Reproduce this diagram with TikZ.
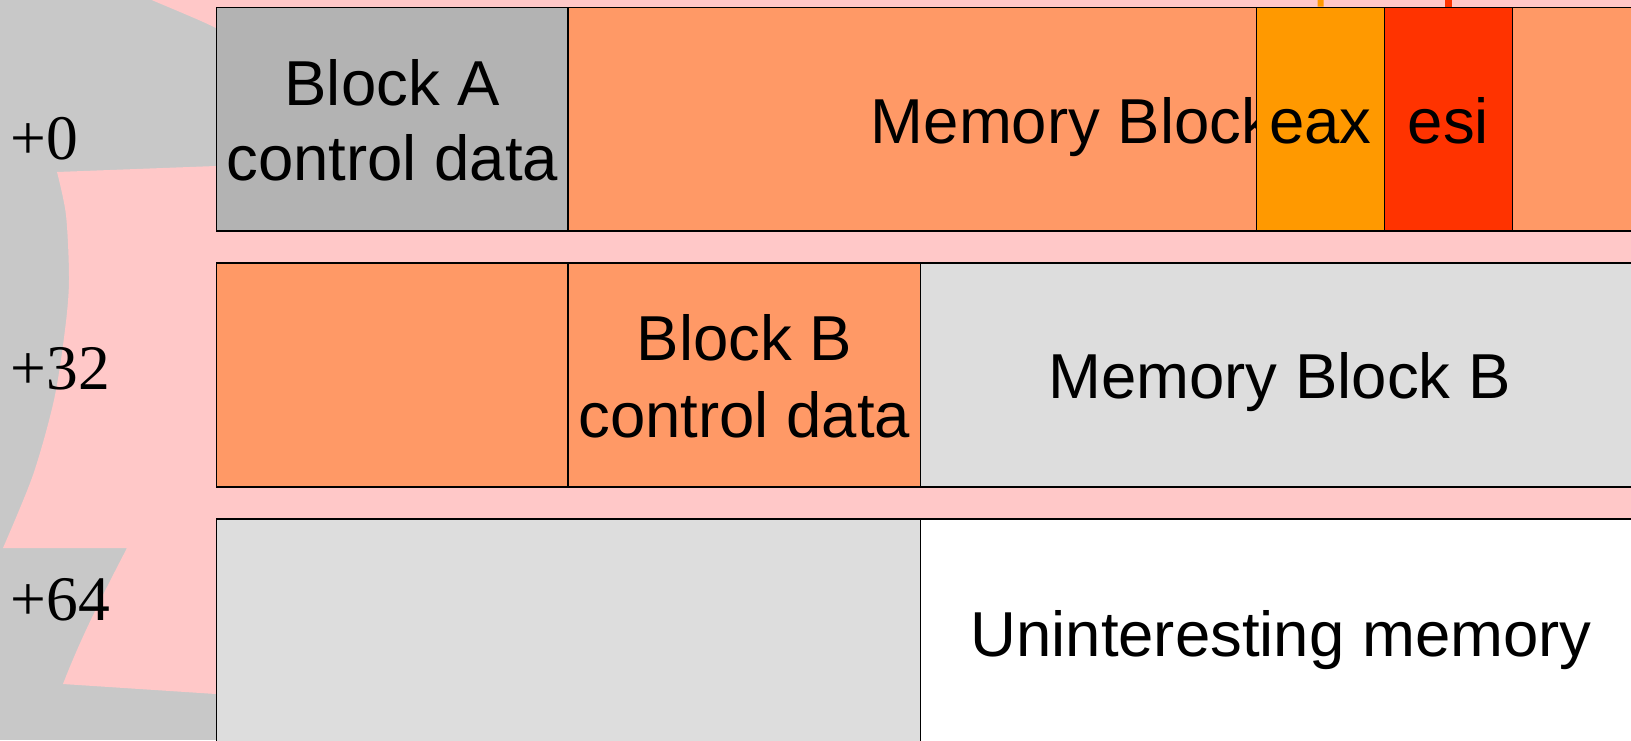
\documentclass[tikz,border=0pt]{standalone}
\usepackage{fontspec}
\setmainfont{Liberation Sans}
\newfontfamily\offsetfont{Liberation Serif}
\definecolor{bggray}{HTML}{C8C8C8}
\definecolor{bgpink}{HTML}{FFC8C8}
\definecolor{ctlgray}{HTML}{B3B3B3}
\definecolor{memorange}{HTML}{FF9966}
\definecolor{regeax}{HTML}{FF9900}
\definecolor{regesi}{HTML}{FF3300}
\definecolor{lightmem}{HTML}{DDDDDD}

\begin{document}
\begin{tikzpicture}[x=1pt,y=-1pt,
  cell/.style={draw=black, line width=1.5pt, inner sep=0pt, outer sep=0pt,
    anchor=north west, minimum height=223.6pt},
  lbl/.style={anchor=base, inner sep=0pt, font=\fontsize{63.5}{76}\selectfont},
  off/.style={anchor=base west, inner sep=0pt,
    font=\offsetfont\fontsize{63.5}{76}\selectfont}]

\useasboundingbox (0,0) rectangle (1631,740);
\clip (0,0) rectangle (1631,740);

% backdrop: grey on the left, pink band behind the rows
\fill[bggray] (0,0) rectangle (1631,740);
\fill[bgpink] (147,-2) .. controls (175,10) and (200,20) .. (216,28)
  -- (216,166) -- (57,172)
  -- plot[smooth] coordinates {(57,172) (66,215) (69,280) (65,330) (54,400) (33,475) (3,548)}
  -- (127,548) .. controls (100,600) and (80,640) .. (63,684)
  -- (216,694) -- (1640,694) -- (1640,-2) -- cycle;

% offsets
\node[off] (off0)  at (10.4,159) {+0};
\node[off] (off32) at (10.4,389) {+32};
\node[off] (off64) at (10.4,620) {+64};

% row +0
\node[cell, fill=ctlgray, minimum width=351.6pt] (ctlA) at (216.4,7.3) {};
\node[lbl] (ctlAa) at (392.2,105) {Block A};
\node[lbl] (ctlAb) at (392.2,180) {control data};
\node[cell, fill=memorange, minimum width=1080pt] (memA) at (568,7.3) {};
\node[lbl] (memAt) at (1102,143.3) {Memory Block A};
\node[cell, fill=regeax, minimum width=127.9pt] (eax) at (1256.6,7.3) {};
\node[cell, fill=regesi, minimum width=128pt] (esi) at (1384.5,7.3) {};
\node[lbl] (eaxt) at (1320.5,143.3) {eax};
\node[lbl] (esit) at (1448.5,143.3) {esi};

% register pointers entering from above
\coordinate (eaxsrc) at (1320.6,-30);
\coordinate (esisrc) at (1448.5,-30);
\draw[regeax, line width=6pt, shorten >=0.75pt] (eaxsrc) -- (eax.north);
\draw[regesi, line width=7pt, shorten >=0.75pt] (esisrc) -- (esi.north);

% row +32
\node[cell, fill=memorange, minimum width=351.6pt] (tailA) at (216.4,263.2) {};
\node[cell, fill=memorange, minimum width=352.6pt] (ctlB) at (568,263.2) {};
\node[lbl] (ctlBa) at (744.3,360) {Block B};
\node[lbl] (ctlBb) at (744.3,437.7) {control data};
\node[cell, fill=lightmem, minimum width=760pt] (memB) at (920.6,263.2) {};
\node[lbl] (memBt) at (1279.5,398.4) {Memory Block B};

% row +64
\node[cell, fill=lightmem, minimum width=704.2pt, minimum height=260pt] (tailB) at (216.4,519) {};
\node[cell, fill=white, minimum width=760pt, minimum height=260pt] (junk) at (920.6,519) {};
\node[lbl] (junkt) at (1281,656) {Uninteresting memory};
\end{tikzpicture}
\end{document}
